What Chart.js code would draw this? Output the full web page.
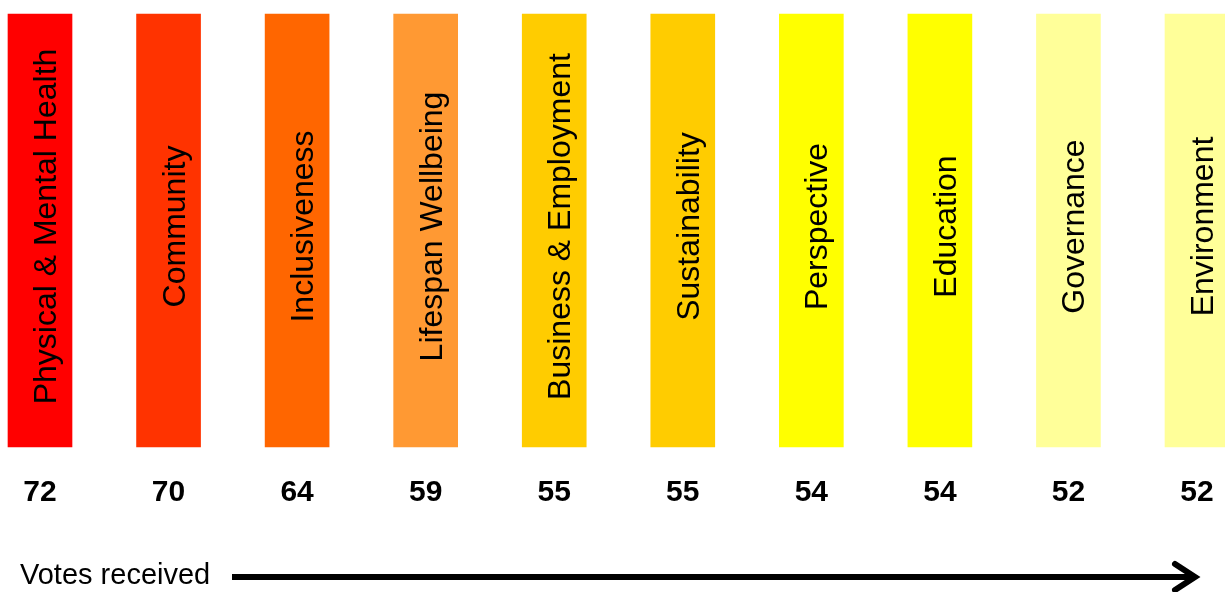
<!DOCTYPE html>
<html>
<head>
<meta charset="utf-8">
<title>Votes received</title>
<script src="https://cdn.jsdelivr.net/npm/chart.js@4.4.1/dist/chart.umd.min.js"></script>
<style>
    html, body { margin: 0; padding: 0; background: #ffffff; }
    #wrap { width: 1225px; height: 592px; position: relative; }
</style>
</head>
<body>
<div id="wrap"><canvas id="votesChart"></canvas></div>
<script>
// --- Data ---
const categories = ['Physical & Mental Health', 'Community', 'Inclusiveness', 'Lifespan Wellbeing',
    'Business & Employment', 'Sustainability', 'Perspective', 'Education', 'Governance', 'Environment'];
const votes = [72, 70, 64, 59, 55, 55, 54, 54, 52, 52];
// every bar is drawn to the same height in the picture
const barLevel = [1, 1, 1, 1, 1, 1, 1, 1, 1, 1];
const barColors = ['#ff0000', '#ff3300', '#ff6600', '#ff9933', '#ffcc00',
    '#ffcc00', '#ffff00', '#ffff00', '#ffff99', '#ffff99'];

const FONT = '"Liberation Sans", Arial, sans-serif';

// names written up the inside of each bar
const barNames = {
    id: 'barNames',
    afterDatasetsDraw(chart) {
        const { ctx, chartArea, scales } = chart;
        const midY = (chartArea.top + chartArea.bottom) / 2 - 4;
        ctx.save();
        ctx.fillStyle = '#000000';
        ctx.font = '32px ' + FONT;
        ctx.textAlign = 'center';
        ctx.textBaseline = 'alphabetic';
        categories.forEach((name, i) => {
            const x = scales.x.getPixelForValue(i);
            ctx.save();
            ctx.translate(x + 16, midY);
            ctx.rotate(-Math.PI / 2);
            ctx.fillText(name, 0, 0);
            ctx.restore();
        });
        ctx.restore();
    }
};

// "Votes received" with the long arrow underneath the chart
const votesArrow = {
    id: 'votesArrow',
    afterDraw(chart) {
        const { ctx } = chart;
        const y = 577;
        ctx.save();
        ctx.fillStyle = '#000000';
        ctx.font = '29px ' + FONT;
        ctx.textAlign = 'left';
        ctx.textBaseline = 'alphabetic';
        ctx.fillText('Votes received', 20, 584);

        ctx.strokeStyle = '#000000';
        ctx.lineWidth = 6;
        ctx.beginPath();
        ctx.moveTo(232, y);
        ctx.lineTo(1193, y);
        ctx.stroke();

        ctx.lineCap = 'round';
        ctx.beginPath();
        ctx.moveTo(1175, y - 13);
        ctx.lineTo(1195, y);
        ctx.lineTo(1175, y + 13);
        ctx.stroke();
        ctx.restore();
    }
};

document.addEventListener('DOMContentLoaded', () => {
    const ctx = document.getElementById('votesChart').getContext('2d');
    new Chart(ctx, {
        type: 'bar',
        data: {
            labels: categories,
            datasets: [{
                data: barLevel,
                backgroundColor: barColors,
                borderWidth: 0,
                barThickness: 64,
                clip: false
            }]
        },
        options: {
            responsive: true,
            maintainAspectRatio: false,
            animation: false,
            layout: { padding: { left: 0, right: 0, top: 14, bottom: 83 } },
            plugins: {
                legend: { display: false },
                tooltip: { enabled: false },
                title: { display: false }
            },
            scales: {
                x: {
                    offset: false,
                    grid: { display: false, drawTicks: false },
                    border: { display: false },
                    ticks: {
                        padding: 28,
                        color: '#000000',
                        maxRotation: 0,
                        autoSkip: false,
                        font: { family: FONT, size: 30, weight: 'bold', lineHeight: 1.2 },
                        callback: (value, index) => String(votes[index])
                    },
                    afterFit(scale) {
                        // first and last bar centres sit 40px / 28px from the edges
                        scale.paddingLeft = 40;
                        scale.paddingRight = 28;
                        scale.height = 62;
                    }
                },
                y: {
                    display: false,
                    min: 0,
                    max: 1
                }
            }
        },
        plugins: [barNames, votesArrow]
    });
});
</script>
</body>
</html>
